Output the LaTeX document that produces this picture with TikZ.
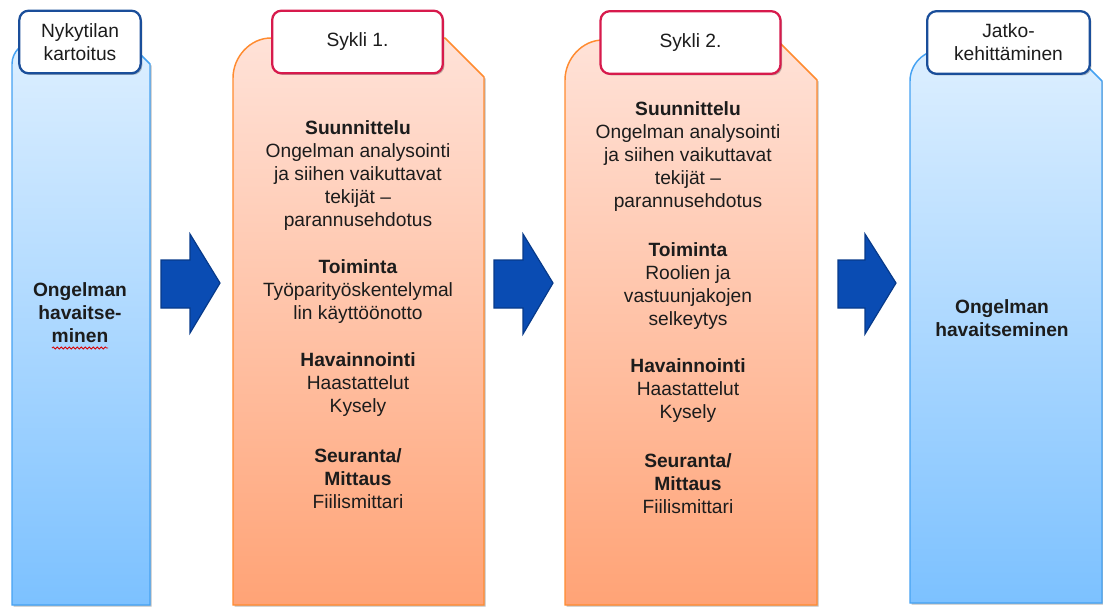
\documentclass[tikz,border=0pt]{standalone}
\usepackage{fontspec}
\setmainfont{Liberation Sans}
\usetikzlibrary{positioning,shadows,decorations.pathmorphing}
\definecolor{bluefill}{HTML}{DDEFFF}
\definecolor{bluedeep}{HTML}{7CC1FF}
\definecolor{blueline}{HTML}{45A2F2}
\definecolor{navy}{HTML}{1A4E9A}
\definecolor{peach}{HTML}{FFE2D8}
\definecolor{salmon}{HTML}{FFA376}
\definecolor{orangeline}{HTML}{FF8B30}
\definecolor{crimson}{HTML}{D71A4C}
\definecolor{arrowfill}{HTML}{0A4CB3}
\definecolor{arrowline}{HTML}{073A8A}
\definecolor{inktext}{HTML}{1C1C1C}

\begin{document}
\begin{tikzpicture}[
    x=0.75pt, y=-0.75pt,
    every node/.style={align=center, text=inktext, font=\fontsize{14.4}{17.25}\selectfont},
    colshadow/.style={drop shadow={shadow xshift=1.2pt, shadow yshift=-1.2pt, opacity=0.25, fill=black}},
    bluecol/.style={draw=blueline, line width=1.1pt, top color=bluefill, bottom color=bluedeep, colshadow},
    orangecol/.style={draw=orangeline, line width=1.1pt, top color=peach, bottom color=salmon, colshadow},
    bluetag/.style={rectangle, draw=navy, line width=1.7pt, fill=white, rounded corners=7pt, minimum height=47pt, colshadow},
    redtag/.style={rectangle, draw=crimson, line width=1.7pt, fill=white, rounded corners=7pt, minimum height=47pt, colshadow},
    stepgroup/.style={inner sep=0pt},
    blockarrow/.style={draw=arrowline, line width=0.9pt, fill=arrowfill, line join=miter}
]
\useasboundingbox (0,0) rectangle (1103,608);

% Columns
\draw[bluecol] (12,605) -- (12,64) .. controls (12,51.9) and (21.9,42) .. (34,42)
    -- (128,42) -- (150,64) -- (150,605) -- cycle;
\draw[orangecol] (233,605) -- (233,78) .. controls (233,57) and (250,38) .. (271,38)
    -- (445,38) -- (484,77) -- (484,605) -- cycle;
\draw[orangecol] (565,605) -- (565,80) .. controls (565,59) and (582,40) .. (603,40)
    -- (777,40) -- (817,80) -- (817,605) -- cycle;
\draw[bluecol] (910,603) -- (910,81) .. controls (910,64) and (924,50) .. (941,50)
    -- (1071,50) -- (1102,81) -- (1102,603) -- cycle;

% Arrows between columns
\draw[blockarrow] (161,260) -- (190,260) -- (190,234) -- (220,283) -- (190,333) -- (190,308) -- (161,308) -- cycle;
\draw[blockarrow] (494,260) -- (523,260) -- (523,234) -- (553,283) -- (523,334) -- (523,308) -- (494,308) -- cycle;
\draw[blockarrow] (838,260) -- (865,260) -- (865,234) -- (896,283) -- (865,334) -- (865,308) -- (838,308) -- cycle;

% Tags
\node[bluetag, minimum width=91pt] (tagnow) at (80,42) {Nykytilan\\kartoitus};
\node[redtag, minimum width=128pt] (tagone) at (357.5,42) {Sykli 1.};
\node[redtag, minimum width=135pt] (tagtwo) at (690.5,42.5) {Sykli 2.};
\node[bluetag, minimum width=122pt] (tagnext) at (1008.5,42.5) {Jatko-\\kehittäminen};

% Current state
\node[stepgroup] (findnow) at (80,313) {\textbf{Ongelman}\\\textbf{havaitse-}\\\textbf{minen}};
\draw[red!85!black, line width=0.6pt, decorate, decoration={snake, amplitude=0.8pt, segment length=3pt}]
    (52,348) -- (108,348);

% Cycle 1
\node[stepgroup] (planone) at (358,176) {\textbf{Suunnittelu}\\Ongelman analysointi\\ja siihen vaikuttavat\\tekijät --\\parannusehdotus};
\node[stepgroup] (actone) at (358,292) {\textbf{Toiminta}\\Työparityöskentelymal\\lin käyttöönotto};
\node[stepgroup] (obsone) at (358,385) {\textbf{Havainnointi}\\Haastattelut\\Kysely};
\node[stepgroup] (measone) at (358,479) {\textbf{Seuranta/}\\\textbf{Mittaus}\\Fiilismittari};

% Cycle 2
\node[stepgroup] (plantwo) at (688,157) {\textbf{Suunnittelu}\\Ongelman analysointi\\ja siihen vaikuttavat\\tekijät --\\parannusehdotus};
\node[stepgroup] (acttwo) at (688,286) {\textbf{Toiminta}\\Roolien ja\\vastuunjakojen\\selkeytys};
\node[stepgroup] (obstwo) at (688,391) {\textbf{Havainnointi}\\Haastattelut\\Kysely};
\node[stepgroup] (meastwo) at (688,484) {\textbf{Seuranta/}\\\textbf{Mittaus}\\Fiilismittari};

% Further development
\node[stepgroup] (findnext) at (1002,318) {\textbf{Ongelman}\\\textbf{havaitseminen}};

\end{tikzpicture}
\end{document}
